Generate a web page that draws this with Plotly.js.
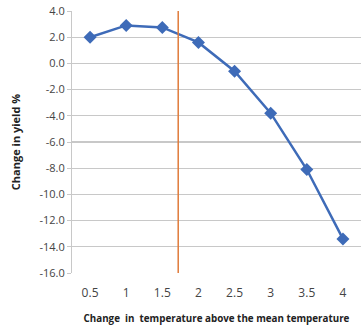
<!DOCTYPE html>
<html><head><meta charset="utf-8">
<script src="https://cdn.plot.ly/plotly-3.0.1.min.js"></script>
<style>html,body{margin:0;padding:0;background:#fff}</style>
</head><body><div id="chart" style="width:361px;height:330px"></div>
<script>
const temperatureChange = [0.5, 1, 1.5, 2, 2.5, 3, 3.5, 4];
const yieldChange = [2.0, 2.9, 2.75, 1.6, -0.6, -3.8, -8.1, -13.4];
const xTickLabels = ["0.5", "1", "1.5", "2", "2.5", "3", "3.5", "4"];
const yTickValues = [4, 2, 0, -2, -4, -6, -8, -10, -12, -14, -16];
const yTickLabels = ["4.0", "2.0", "0.0", "-2.0", "-4.0", "-6.0", "-8.0", "-10.0", "-12.0", "-14.0", "-16.0"];
const thresholdTemperature = [1.72];

const font = "Open Sans, Liberation Sans, sans-serif";
Plotly.newPlot("chart", [{
  x: temperatureChange, y: yieldChange, type: "scatter", mode: "lines+markers",
  line: {color: "#3E6BB8", width: 2.5},
  marker: {symbol: "diamond", size: 10, color: "#3E6BB8"},
  hoverinfo: "skip"
}], {
  width: 361, height: 330,
  margin: {l: 72, r: 0, t: 11, b: 57},
  paper_bgcolor: "#fff", plot_bgcolor: "#fff",
  showlegend: false,
  xaxis: {
    range: [0.25, 4.25], tickvals: temperatureChange, ticktext: xTickLabels,
    showgrid: false, zeroline: false, showline: false, ticks: "",
    ticklabelstandoff: 11,
    tickfont: {family: font, size: 12, color: "#444"},
    title: {text: "Change  in  temperature above the mean temperature", font: {family: font, size: 9.8, color: "#222", weight: "bold"}, standoff: 15}
  },
  yaxis: {
    range: [-16, 4], tickvals: yTickValues, ticktext: yTickLabels,
    showgrid: true, gridcolor: "#c8c8c8", gridwidth: 1.2, zeroline: false,
    showline: true, linecolor: "#c8c8c8", ticks: "outside", ticklen: 4, tickcolor: "#c8c8c8",
    tickfont: {family: font, size: 11, color: "#444"},
    title: {text: "Change in yield %", font: {family: font, size: 11, color: "#222", weight: "bold"}, standoff: 16}
  },
  shapes: [{
    type: "line", xref: "x", yref: "y", x0: thresholdTemperature[0], x1: thresholdTemperature[0], y0: 4.3, y1: -16,
    line: {color: "#E07B3A", width: 1.5}
  }]
}, {displayModeBar: false, staticPlot: true});
</script></body></html>
